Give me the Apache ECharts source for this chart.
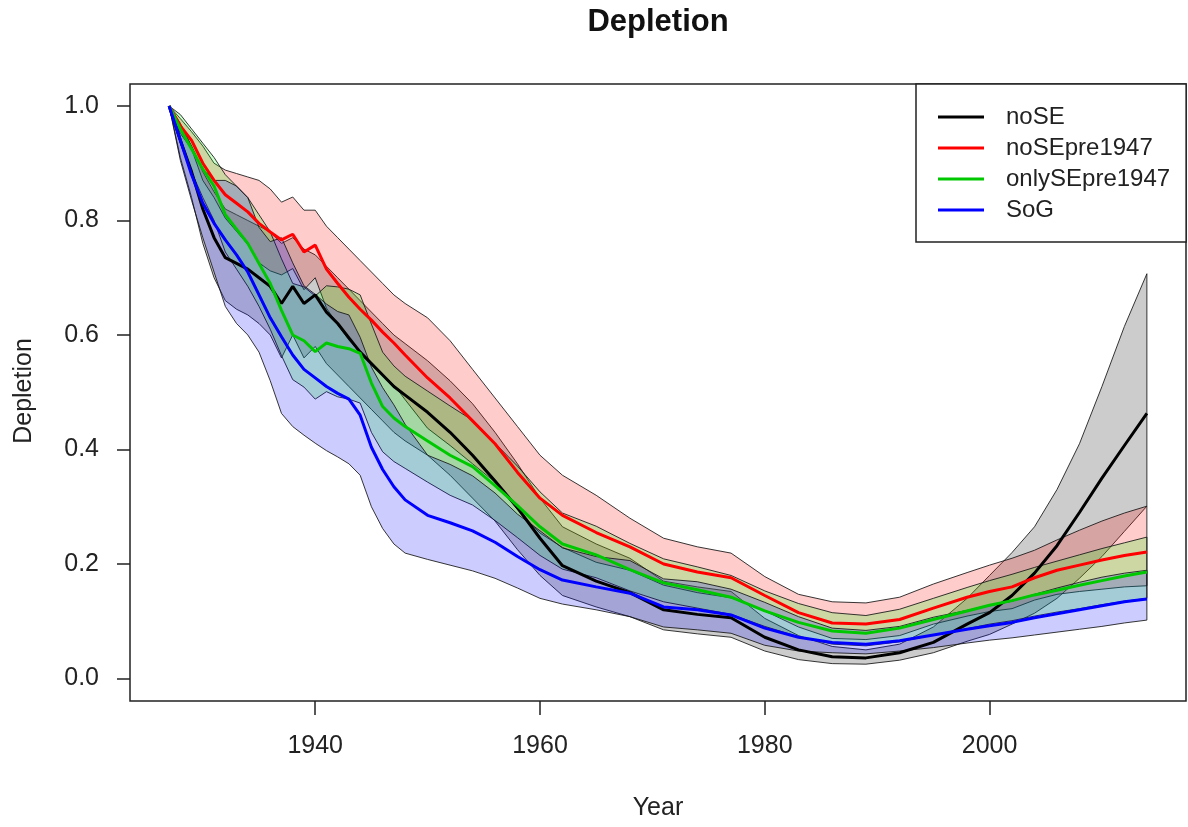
<!DOCTYPE html>
<html>
<head>
<meta charset="utf-8">
<script src="https://cdn.jsdelivr.net/npm/echarts@6/dist/echarts.min.js"></script>
<style>
html,body{margin:0;padding:0;background:#fff;}
#chart{width:1188px;height:827px;}
</style>
</head>
<body>
<div id="chart"></div>
<script>
const years = [1927,1928,1929,1930,1931,1932,1933,1934,1935,1936,1937,1938,1939,1940,1941,1942,1943,1944,1945,1946,1947,1948,1950,1952,1954,1956,1958,1960,1962,1965,1968,1971,1974,1977,1980,1983,1986,1989,1992,1995,1998,2000,2002,2004,2006,2008,2010,2012,2014];

const noSE    = [1.0,0.94,0.885,0.82,0.77,0.735,0.725,0.715,0.70,0.685,0.655,0.685,0.655,0.67,0.64,0.62,0.595,0.57,0.55,0.53,0.51,0.495,0.465,0.43,0.39,0.345,0.298,0.245,0.197,0.17,0.15,0.12,0.112,0.106,0.072,0.05,0.038,0.036,0.045,0.063,0.095,0.115,0.145,0.184,0.232,0.29,0.35,0.407,0.463];
const noSE_hi = [1.0,0.97,0.93,0.885,0.85,0.82,0.81,0.80,0.79,0.78,0.76,0.77,0.75,0.74,0.72,0.70,0.68,0.66,0.64,0.62,0.60,0.585,0.555,0.52,0.48,0.43,0.375,0.315,0.265,0.235,0.21,0.17,0.16,0.152,0.105,0.075,0.056,0.05,0.06,0.09,0.14,0.18,0.22,0.265,0.33,0.41,0.51,0.615,0.707];
const noSE_lo = [1.0,0.91,0.84,0.76,0.70,0.66,0.645,0.635,0.62,0.60,0.56,0.60,0.56,0.58,0.55,0.53,0.51,0.49,0.47,0.45,0.43,0.415,0.39,0.355,0.315,0.275,0.225,0.18,0.145,0.125,0.108,0.085,0.078,0.072,0.048,0.033,0.026,0.025,0.032,0.045,0.065,0.077,0.095,0.114,0.14,0.175,0.213,0.257,0.301];

const noSEpre = [1.0,0.965,0.94,0.90,0.87,0.845,0.83,0.815,0.795,0.78,0.766,0.776,0.745,0.757,0.715,0.69,0.666,0.645,0.626,0.605,0.586,0.565,0.525,0.49,0.45,0.41,0.36,0.315,0.285,0.255,0.23,0.20,0.186,0.176,0.145,0.115,0.097,0.095,0.103,0.123,0.142,0.152,0.16,0.176,0.189,0.198,0.207,0.215,0.221];
const noSEpre_hi = [1.0,0.978,0.955,0.93,0.90,0.888,0.882,0.876,0.87,0.855,0.832,0.841,0.818,0.818,0.79,0.77,0.75,0.73,0.71,0.69,0.67,0.655,0.63,0.59,0.54,0.49,0.44,0.39,0.355,0.32,0.28,0.245,0.23,0.219,0.178,0.147,0.134,0.132,0.142,0.165,0.185,0.198,0.21,0.224,0.242,0.259,0.275,0.289,0.301];
const noSEpre_lo = [1.0,0.952,0.925,0.87,0.84,0.804,0.781,0.758,0.726,0.712,0.705,0.716,0.679,0.70,0.647,0.618,0.591,0.57,0.552,0.53,0.513,0.487,0.437,0.407,0.375,0.343,0.295,0.254,0.229,0.203,0.189,0.163,0.15,0.141,0.118,0.09,0.07,0.068,0.075,0.095,0.109,0.117,0.122,0.137,0.147,0.152,0.156,0.16,0.162];

const onlySE = [1.0,0.96,0.925,0.89,0.86,0.81,0.785,0.76,0.725,0.69,0.643,0.60,0.59,0.571,0.586,0.58,0.576,0.568,0.516,0.475,0.455,0.44,0.415,0.39,0.37,0.337,0.302,0.265,0.235,0.216,0.19,0.167,0.155,0.142,0.118,0.098,0.083,0.079,0.088,0.103,0.118,0.128,0.136,0.146,0.154,0.163,0.171,0.179,0.186];
const onlySE_hi = [1.0,0.985,0.96,0.935,0.91,0.88,0.86,0.84,0.81,0.78,0.733,0.69,0.684,0.668,0.686,0.684,0.68,0.67,0.619,0.57,0.546,0.528,0.502,0.476,0.451,0.411,0.371,0.326,0.289,0.266,0.236,0.209,0.195,0.18,0.153,0.131,0.115,0.11,0.121,0.14,0.159,0.171,0.182,0.194,0.205,0.216,0.227,0.237,0.247];
const onlySE_lo = [1.0,0.935,0.885,0.84,0.80,0.745,0.715,0.685,0.65,0.61,0.564,0.522,0.509,0.488,0.501,0.492,0.488,0.481,0.43,0.396,0.379,0.367,0.343,0.32,0.303,0.276,0.246,0.215,0.191,0.176,0.153,0.134,0.123,0.112,0.091,0.073,0.06,0.057,0.064,0.076,0.087,0.095,0.101,0.109,0.116,0.122,0.129,0.135,0.14];

const SoG = [1.0,0.94,0.88,0.83,0.795,0.766,0.74,0.71,0.67,0.63,0.597,0.565,0.54,0.525,0.51,0.498,0.488,0.46,0.404,0.365,0.335,0.312,0.285,0.272,0.258,0.238,0.213,0.19,0.172,0.16,0.149,0.125,0.12,0.111,0.088,0.072,0.063,0.06,0.066,0.076,0.086,0.092,0.098,0.106,0.113,0.12,0.127,0.134,0.139];
const SoG_hi = [1.0,0.965,0.93,0.89,0.87,0.87,0.86,0.84,0.788,0.763,0.77,0.726,0.686,0.671,0.654,0.641,0.635,0.596,0.544,0.508,0.478,0.444,0.39,0.374,0.354,0.324,0.287,0.258,0.228,0.213,0.206,0.174,0.169,0.156,0.133,0.108,0.088,0.084,0.091,0.107,0.119,0.127,0.135,0.147,0.158,0.168,0.177,0.184,0.189];
const SoG_lo = [1.0,0.905,0.835,0.77,0.71,0.65,0.62,0.60,0.57,0.52,0.463,0.44,0.425,0.411,0.398,0.387,0.375,0.355,0.30,0.262,0.235,0.219,0.208,0.198,0.188,0.175,0.158,0.14,0.13,0.12,0.108,0.09,0.085,0.079,0.058,0.048,0.045,0.043,0.048,0.054,0.062,0.067,0.071,0.076,0.081,0.086,0.091,0.097,0.102];

const seriesNames = ['noSE','noSEpre1947','onlySEpre1947','SoG'];
const lineColors = ['#000000','#ff0000','#00c800','#0000ff'];
const bandColors = ['rgba(0,0,0,0.2)','rgba(255,0,0,0.2)','rgba(0,255,0,0.2)','rgba(0,0,255,0.2)'];
const xTicks = [1940,1960,1980,2000];
const yTicks = [0,0.2,0.4,0.6,0.8,1.0];

const mids = [noSE, noSEpre, onlySE, SoG];
const his = [noSE_hi, noSEpre_hi, onlySE_hi, SoG_hi];
const los = [noSE_lo, noSEpre_lo, onlySE_lo, SoG_lo];

const chart = echarts.init(document.getElementById('chart'), null, {renderer:'canvas'});

function bandSeries(k){
  const data = years.map((y,i)=>[y, los[k][i], his[k][i]]);
  return {
    type:'custom',
    name:'band_'+seriesNames[k],
    data:data,
    z:1,
    silent:true,
    renderItem:function(params, api){
      if (params.dataIndex !== 0) return null;
      const pts = [];
      for (let i=0;i<years.length;i++) pts.push(api.coord([years[i], his[k][i]]));
      for (let i=years.length-1;i>=0;i--) pts.push(api.coord([years[i], los[k][i]]));
      return {type:'polygon', shape:{points:pts}, style:{fill:bandColors[k], stroke:'rgba(20,20,20,0.85)', lineWidth:1}};
    }
  };
}
function lineSeries(k){
  return {
    type:'line', name:seriesNames[k],
    data:years.map((y,i)=>[y, mids[k][i]]),
    showSymbol:false, symbol:'none', z:5,
    lineStyle:{color:lineColors[k], width:3},
    itemStyle:{color:lineColors[k]},
    silent:true, animation:false
  };
}

const fontFam = '"Liberation Sans", Arial, sans-serif';

const option = {
  animation:false,
  grid:{left:130, right:2, top:84, bottom:126, show:true, borderColor:'#222', borderWidth:1.5, backgroundColor:'transparent'},
  xAxis:{
    type:'value', min:1923.52, max:2017.48,
    splitLine:{show:false}, axisLine:{show:false, onZero:false},
    axisTick:{show:true, length:14, inside:false, lineStyle:{color:'#222', width:1.5}, customValues:xTicks},
    axisLabel:{fontSize:25, color:'#222', fontFamily:fontFam, margin:33, customValues:xTicks, formatter:v=>String(v)}
  },
  yAxis:{
    type:'value', min:-0.0393, max:1.0384,
    splitLine:{show:false}, axisLine:{show:false, onZero:false},
    axisTick:{show:true, length:13, inside:false, lineStyle:{color:'#222', width:1.5}, customValues:yTicks},
    axisLabel:{fontSize:25, color:'#222', fontFamily:fontFam, margin:31, customValues:yTicks, formatter:v=>v.toFixed(1)}
  },
  legend:{
    data:seriesNames, orient:'vertical', left:916, top:84,
    padding:[19,16,18,22], itemGap:3, itemWidth:46, itemHeight:3, icon:'rect',
    borderColor:'#222', borderWidth:1.5, backgroundColor:'#fff',
    textStyle:{fontSize:24, lineHeight:28, color:'#222', fontFamily:fontFam, padding:[0,0,0,17]},
    selectedMode:false
  },
  graphic:[
    {type:'text', x:658, y:22, style:{text:'Depletion', font:'bold 31px '+fontFam, fill:'#111', textAlign:'center', textVerticalAlign:'middle'}},
    {type:'text', x:658, y:808, style:{text:'Year', font:'25px '+fontFam, fill:'#222', textAlign:'center', textVerticalAlign:'middle'}},
    {type:'text', x:24, y:391, rotation:Math.PI/2, style:{text:'Depletion', font:'25px '+fontFam, fill:'#222', textAlign:'center', textVerticalAlign:'middle'}}
  ],
  series:[bandSeries(0),bandSeries(1),bandSeries(2),bandSeries(3),lineSeries(0),lineSeries(1),lineSeries(2),lineSeries(3)]
};
chart.setOption(option);
</script>
</body>
</html>
